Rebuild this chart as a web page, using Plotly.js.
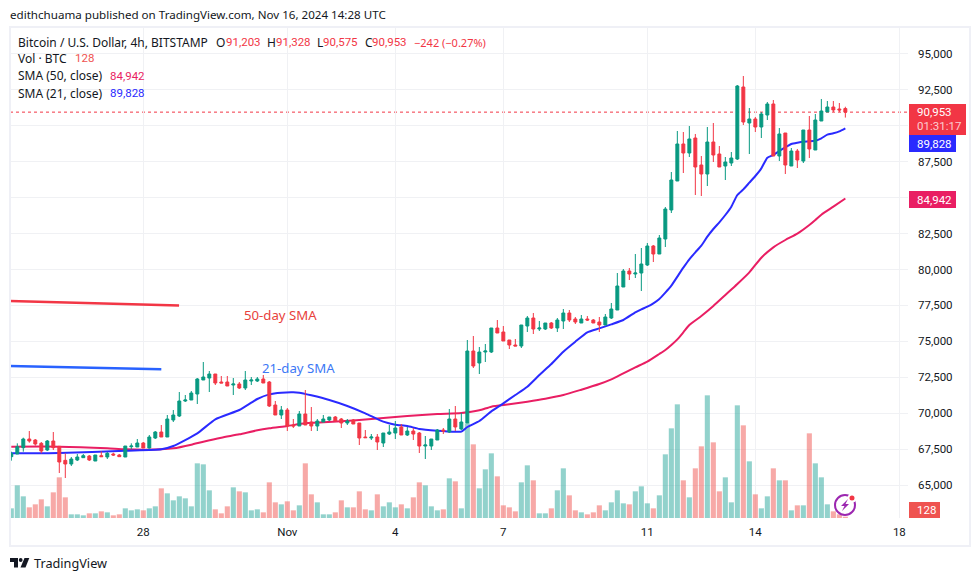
<!DOCTYPE html>
<html>
<head>
<meta charset="utf-8">
<script src="https://cdn.plot.ly/plotly-3.0.1.min.js"></script>
<style>html,body{margin:0;padding:0;background:#fff}#c{width:980px;height:581px}</style>
</head>
<body>
<div id="c"></div>
<script>
var opens=[66974,67160,67600,68204,68134,67902,67438,68064,67693,66719,66464,66742,66904,67020,66672,67044,66951,67160,67090,66951,67670,67647,67925,67577,68273,68691,68343,69526,69804,70848,70918,71336,72310,72449,72728,72171,72171,71962,72032,71753,72240,72240,72380,72171,70570,69874,70222,69178,69108,69944,69387,69108,69387,69526,69735,69596,69317,69526,69317,68343,68273,68343,67925,68552,68621,69039,68482,68760,68621,67716,67716,68134,68830,68691,69596,68900,69317,74328,73493,74259,74259,75929,75651,75094,74746,74676,76068,76625,75860,75860,76277,75929,76416,76973,76556,76277,76556,76486,76347,76138,76625,77182,78783,79896,79688,79757,80314,81636,81080,82124,84142,86160,88736,88109,89153,87274,86648,88875,88040,87204,87413,87692,92703,90197,90476,89919,90754,91520,87900,89501,87204,88248,87552,89710,88318,90336,90963,91311,91172,91203];
var highs=[67322,67902,68296,68760,68204,67995,68134,68691,67693,67206,66951,67160,67160,67090,67090,67345,67299,67252,67160,67716,67902,68204,67995,68482,68760,69178,69874,70222,71475,71266,71544,72449,73563,72936,72728,72588,72588,72449,72171,72936,72519,72519,72658,72240,70848,70500,70361,69596,70152,71614,70431,69596,69874,69735,69804,69665,69596,69596,69317,68830,68552,68552,68621,69178,69456,69248,69039,68969,68691,68412,68204,68900,68969,70292,70500,70013,75094,75372,74607,74816,75929,76486,76068,75094,75164,76138,76764,76973,76416,76277,76347,76625,77251,77182,76695,76834,76764,76556,76695,76904,77669,79757,80036,80105,81080,81497,81845,81706,82402,84351,86787,89640,89571,89988,89432,87900,89919,90197,88596,87831,88179,92842,93468,91241,90615,90963,91659,91798,89849,89501,88457,88388,89710,90684,90824,91868,91728,91728,91589,91328];
var lows=[66696,67160,67322,67948,67740,67206,67368,67438,65837,65489,66324,66672,66881,66672,66672,66951,66812,67020,66951,66951,67508,67647,67577,67531,68204,68343,68343,69387,69735,70779,70918,70640,72310,71475,71962,72101,71892,71266,71684,71614,71962,72171,72101,70431,69874,69596,68760,68969,69108,69178,68760,68760,69387,69456,69456,68969,69178,69248,67786,68273,68134,67438,67647,68482,68204,68482,68412,68134,67229,66812,67438,68134,68552,68621,68760,68830,69317,73145,72728,73563,74189,75581,75024,74468,74676,74537,75651,75512,75720,75790,75860,75651,75860,76347,76208,76277,76416,76277,75651,76138,76556,77182,78783,79270,79409,78504,80244,80523,81080,81567,83933,86160,86717,87831,85186,85116,85812,87483,87135,86230,87204,87622,90058,88040,89571,89153,90406,87900,87552,86648,87204,87065,87413,87761,88318,90336,90963,90963,90963,90575];
var closes=[67206,67670,68204,68064,67856,67368,68064,67600,66603,66464,66812,66951,67044,66742,67090,66974,67206,67090,66974,67716,67716,67925,67577,68343,68691,68343,69596,69874,70848,70918,71405,72380,72519,72728,72101,72101,71892,72032,71753,72310,72310,72380,72101,70500,69874,70222,69108,69108,69944,69178,69108,69456,69596,69735,69456,69317,69456,69248,68273,68296,68343,67995,68621,68691,68969,68482,68760,68552,67716,67786,68204,68830,68760,69596,69039,69387,74328,73284,74259,74328,75929,75581,75024,74746,74676,76138,76625,75860,75929,76277,75929,76486,76973,76486,76347,76556,76486,76277,76138,76695,77251,78852,79896,79688,79757,80384,81636,81080,82193,84212,86230,88736,88109,89084,87135,86648,88875,87970,87135,87483,87761,92772,90267,90476,89919,90824,91520,87900,89432,87274,88248,87622,89710,88388,90406,91032,91311,91102,91102,90953];
var volumes=[957,3234,2145,1056,1353,1848,1155,2541,4026,2046,363,363,264,462,462,660,561,264,363,957,759,858,759,957,1155,2937,2442,1749,2145,1947,1155,5412,5313,2739,858,462,1155,3036,2640,2541,759,858,561,3531,1551,1353,1650,759,1254,5412,2343,1551,363,363,561,1749,1056,1056,2640,858,759,2343,1155,1551,1056,1353,957,2046,3531,3234,1155,759,858,3927,3630,957,9372,7293,2937,4818,6402,4125,1254,1056,660,3531,5214,3729,462,462,957,2739,4917,2244,759,561,363,561,1254,759,1551,2739,1452,1353,2640,3135,1452,957,2244,6303,8877,11253,3729,2046,4917,7095,12144,7491,2640,4026,1551,11154,9174,5610,2343,957,2145,4917,3729,3729,759,1254,1254,8382,5412,4026,1353,660,363,128];

var sma21Index=[0,8,19,25,27,31,34,38,40,41,43,45,47,48,50,53,56,59,62,64,66,68,71,74,75,76,78,80,82,84,86,88,90,92,94,96,98,100,102,104,105,106,107,108,109,110,111,112,113,114,115,116,117,118,119,120,121,122,123,124,125,126,127,128,129,130,131,132,133,134,135,136,137,138,139];
var sma21Values=[67206,67229,67392,67484,67716,68598,69572,70222,70732,70988,71312,71428,71452,71428,71243,70918,70500,69990,69410,69201,69108,68900,68784,68714,68714,69039,69456,70129,70686,71266,71846,72658,73424,74282,74978,75628,75906,76184,76486,77020,77228,77414,77646,77948,78388,78876,79502,80128,80708,81196,81660,82286,82820,83284,83794,84374,85186,85580,86044,86508,87042,87784,87970,88248,88504,88736,88828,88898,88921,88968,89130,89385,89478,89617,89828];
var sma50Index=[0,8,16,19,25,27,30,32,35,38,41,43,46,49,55,60,66,71,75,78,80,83,86,89,92,95,98,100,102,104,106,108,109,110,111,112,113,115,117,119,121,123,125,127,129,131,133,134,135,137,139];
var sma50Values=[67670,67670,67554,67484,67484,67554,67809,68018,68296,68528,68807,68946,69108,69294,69433,69596,69804,69944,70013,70199,70454,70616,70802,71011,71266,71637,72032,72356,72774,73192,73586,74120,74398,74746,75140,75628,76138,76764,77460,78226,78992,79804,80824,81544,82054,82495,83098,83446,83817,84374,84942];

var dayTicks=['2024-10-28','2024-11-01','2024-11-04','2024-11-07','2024-11-11','2024-11-14','2024-11-18'];
var dayLabels=['28','Nov','4','7','11','14','18'];
var priceTicks=[65000,67500,70000,72500,75000,77500,80000,82500,85000,87500,90000,92500,95000];
var priceLabels=['65,000','67,500','70,000','72,500','75,000','77,500','80,000','82,500','','87,500','','92,500','95,000'];
var firstCandle=Date.UTC(2024,9,24,8);
function at(i){return new Date(firstCandle+i*4*3600*1000).toISOString().slice(0,16).replace('T',' ');}
var times=closes.map(function(_,i){return at(i);});

var FONT='"Noto Sans", sans-serif', NUM='Roboto, sans-serif', INK='#131722', UP='#089981', DOWN='#f23645';
var pxX=function(x){return (x-10)/898;}, pxY=function(y){return (518-y)/490;};

function txt(x,y,t,color,size,family){
  return {xref:'paper',yref:'paper',x:pxX(x),y:pxY(y),text:t,showarrow:false,xanchor:'left',yanchor:'middle',
    borderpad:0,borderwidth:0,font:{family:family||FONT,size:size||12,color:color||INK}};
}
function num(x,y,t,color){return txt(x,y,t,color,11.5,NUM);}
function rect(x0,y0,x1,y1,fill){
  return {type:'rect',xref:'paper',yref:'paper',x0:pxX(x0),x1:pxX(x1),y0:pxY(y0),y1:pxY(y1),fillcolor:fill,line:{width:0},layer:'above'};
}
function circ(cx,cy,r,fill,lineColor,w){
  return {type:'circle',xref:'paper',yref:'paper',x0:pxX(cx-r),x1:pxX(cx+r),y0:pxY(cy+r),y1:pxY(cy-r),fillcolor:fill,line:{color:lineColor||fill,width:w||0},layer:'above'};
}
function poly(pts,fill){
  var d=pts.map(function(p,i){return (i?'L':'M')+pxX(p[0])+' '+pxY(p[1]);}).join(' ')+' Z';
  return {type:'path',xref:'paper',yref:'paper',path:d,fillcolor:fill,line:{width:0},layer:'above'};
}

var traces=[
 {type:'bar',x:times,y:volumes,yaxis:'y',hoverinfo:'skip',showlegend:false,
  marker:{color:closes.map(function(c,i){return c>=opens[i]?'rgba(38,166,154,0.5)':'rgba(239,83,80,0.5)';}),line:{width:0}}},
 {type:'scatter',mode:'lines',x:sma50Index.map(at),y:sma50Values,yaxis:'y2',hoverinfo:'skip',showlegend:false,line:{color:'#e91e63',width:2,shape:'spline',smoothing:0.6}},
 {type:'scatter',mode:'lines',x:sma21Index.map(at),y:sma21Values,yaxis:'y2',hoverinfo:'skip',showlegend:false,line:{color:'#2a2aff',width:2,shape:'spline',smoothing:0.5}},
 {type:'candlestick',x:times,open:opens,high:highs,low:lows,close:closes,yaxis:'y3',hoverinfo:'skip',showlegend:false,whiskerwidth:0,
  increasing:{line:{color:UP,width:1},fillcolor:UP},decreasing:{line:{color:DOWN,width:1},fillcolor:DOWN}}
];
var priceRange=[62706,96809];
var layout={
 width:980,height:581,margin:{l:10,r:72,t:28,b:63,pad:0},paper_bgcolor:'#fff',plot_bgcolor:'#fff',showlegend:false,
 bargap:0.15,boxgap:0.3,
 font:{family:FONT,size:12,color:INK},
 xaxis:{type:'date',range:['2024-10-24 07:08','2024-11-18 05:46'],tickmode:'array',tickvals:dayTicks,ticktext:dayLabels,
   showgrid:true,gridcolor:'#f0f1f4',gridwidth:1,zeroline:false,showline:false,ticks:'',ticklabelstandoff:5,
   rangeslider:{visible:false},fixedrange:true,tickfont:{family:NUM,size:11.5,color:INK}},
 yaxis:{range:[0,48510],visible:false,fixedrange:true},
 yaxis2:{overlaying:'y',range:priceRange,visible:false,fixedrange:true},
 yaxis3:{overlaying:'y',side:'right',range:priceRange,tickmode:'array',tickvals:priceTicks,ticktext:priceLabels,showgrid:true,gridcolor:'#f0f1f4',gridwidth:1,
   zeroline:false,showline:false,ticks:'',ticklabelstandoff:9,fixedrange:true,tickfont:{family:NUM,size:11.5,color:INK}},
 shapes:[
  {type:'line',xref:'paper',yref:'y3',x0:0,x1:1,y0:closes[closes.length-1],y1:closes[closes.length-1],line:{color:DOWN,width:1,dash:'dot'},layer:'below'},
  {type:'line',xref:'x',yref:'y3',x0:'2024-10-24 07:08',x1:'2024-10-28 23:50',y0:77809,y1:77496,line:{color:DOWN,width:2.5},layer:'above'},
  {type:'line',xref:'x',yref:'y3',x0:'2024-10-24 07:08',x1:'2024-10-28 12:00',y0:73285,y1:73060,line:{color:'#2962ff',width:2.5},layer:'above'},
  {type:'rect',xref:'paper',yref:'paper',x0:pxX(10),x1:pxX(970),y0:pxY(546),y1:pxY(27),fillcolor:'rgba(0,0,0,0)',line:{color:'#eff0f6',width:2},layer:'above'},
  rect(909,104,966,135,DOWN),
  rect(909,135,956,152,'#2a2aff'),
  rect(909,191,956,208,'#e91e63'),
  rect(909,502,940,518,'#ef5350'),
  circ(845,505,10,'#ffffff','#9c27b0',2),
  circ(852,498,4.5,'#ffffff'),
  circ(852,498,2.5,'#f23645'),
  poly([[848,499],[841,506],[844.5,506],[842,511],[849,504],[845.5,504]],'#9c27b0'),
  poly([[10,558],[18,558],[18,567.5],[14,567.5],[14,562],[10,562]],'#131722'),
  circ(20.7,560,1.9,'#131722'),
  poly([[24.5,558],[29.3,558],[25.5,567.5],[20.5,567.5]],'#131722')
 ],
 annotations:[
  txt(10,15,'edithchuama published on TradingView.com, Nov 16, 2024 14:28 UTC',INK,11.6),
  txt(18,42,'Bitcoin / U.S. Dollar, 4h, BITSTAMP'),
  txt(216,42,'O'),num(226,42,'91,203',DOWN),
  txt(267,42,'H'),num(276,42,'91,328',DOWN),
  txt(317,42,'L'),num(323,42,'90,575',DOWN),
  txt(365,42,'C'),num(372,42,'90,953',DOWN),
  txt(414,42,'\u2212242 (\u22120.27%)',DOWN,11),
  txt(18,58.5,'Vol \u00b7 BTC'),num(75,58.5,'128','#ef5350'),
  txt(18,76,'SMA (50, close)'),num(110,76,'84,942','#e91e63'),
  txt(18,93,'SMA (21, close)'),num(110,93,'89,828','#2a2aff'),
  txt(244,315,'50-day SMA','#e8413c',13.2),
  txt(262,368,'21-day SMA','#3d78f5',13.2),
  num(917,112,'90,953','#ffffff'),
  num(917,126,'01:31:17','rgba(255,255,255,0.75)'),
  num(917,143.5,'89,828','#ffffff'),
  num(917,199.5,'84,942','#ffffff'),
  num(917,510,'128','#ffffff'),
  txt(34,563,'TradingView',INK,12.7)
 ]
};
Plotly.newPlot('c',traces,layout,{displayModeBar:false,staticPlot:true});
</script>
</body>
</html>
